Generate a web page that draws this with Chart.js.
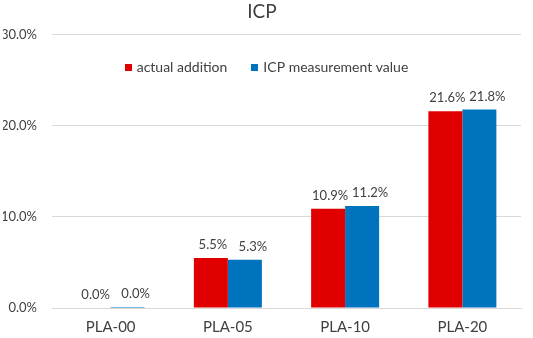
<!DOCTYPE html>
<html>
<head>
<meta charset="utf-8">
<script src="https://cdn.jsdelivr.net/npm/chart.js@4"></script>
<style>
html,body{margin:0;padding:0;background:#fff;}
#wrap{width:533px;height:338px;}
</style>
</head>
<body>
<div id="wrap"><canvas id="c" width="533" height="338"></canvas></div>
<script>
const categories = ['PLA-00', 'PLA-05', 'PLA-10', 'PLA-20'];
const actualAddition = [0, 5.5, 10.9, 21.6];
const icpMeasurement = [0.04, 5.3, 11.2, 21.8];
const seriesNames = ['actual addition', 'ICP measurement value'];
const yTicks = [0, 10, 20, 30];

const FONT = 'Lato, "Open Sans", sans-serif';

const barLabels = {
  id: 'barLabels',
  afterDatasetsDraw(chart) {
    const ctx = chart.ctx;
    ctx.save();
    ctx.font = '13px ' + FONT;
    ctx.fillStyle = '#404040';
    ctx.textAlign = 'center';
    ctx.textBaseline = 'middle';
    const dx = [2, 8];
    chart.data.datasets.forEach((ds, i) => {
      const meta = chart.getDatasetMeta(i);
      meta.data.forEach((el, j) => {
        const v = ds.data[j];
        ctx.fillText(v.toFixed(1) + '%', el.x + dx[i], el.y - 13);
      });
    });
    ctx.restore();
  }
};

const innerLegend = {
  id: 'innerLegend',
  afterDraw(chart) {
    const ctx = chart.ctx;
    ctx.save();
    ctx.font = '14px ' + FONT;
    ctx.textBaseline = 'middle';
    ctx.textAlign = 'left';
    const box = 7, gap = 5, spacing = 24;
    const items = chart.data.datasets.map(ds => ({ text: ds.label, color: ds.backgroundColor, w: ctx.measureText(ds.label).width }));
    let total = 0;
    items.forEach((it, i) => { total += box + gap + it.w + (i ? spacing : 0); });
    let x = chart.width / 2 - total / 2;
    const y = chart.chartArea.top + 33;
    items.forEach((it, i) => {
      if (i) x += spacing;
      ctx.fillStyle = it.color;
      ctx.fillRect(Math.round(x), Math.round(y - box / 2), box, box);
      x += box + gap;
      ctx.fillStyle = '#404040';
      ctx.fillText(it.text, x, y);
      x += it.w;
    });
    ctx.restore();
  }
};

new Chart(document.getElementById('c'), {
  type: 'bar',
  data: {
    labels: categories,
    datasets: [
      { label: seriesNames[0], data: actualAddition, backgroundColor: '#e00000', borderWidth: 0 },
      { label: seriesNames[1], data: icpMeasurement, backgroundColor: '#0073bf', borderWidth: 0, minBarLength: 1 }
    ]
  },
  options: {
    responsive: false,
    animation: false,
    devicePixelRatio: 1,
    layout: { padding: { left: 3, right: 12, top: 0, bottom: 3 } },
    datasets: { bar: { categoryPercentage: 0.58, barPercentage: 1.0 } },
    plugins: {
      title: {
        display: true, text: 'ICP', color: '#404040',
        font: { family: FONT, size: 19, weight: 'normal' },
        padding: { top: 0, bottom: 12 }
      },
      legend: { display: false },
      tooltip: { enabled: false }
    },
    scales: {
      x: {
        grid: { display: false, drawTicks: false },
        border: { display: true, color: '#d9d9d9' },
        ticks: { color: '#404040', font: { family: FONT, size: 15 }, padding: 10 },
        afterFit: s => { s.height = 27; }
      },
      y: {
        min: 0, max: 30,
        afterBuildTicks: s => { s.ticks = yTicks.map(v => ({ value: v })); },
        grid: { color: '#d9d9d9', drawTicks: false },
        border: { display: false },
        ticks: {
          color: '#404040', font: { family: FONT, size: 13 }, padding: 15,
          callback: v => v.toFixed(1) + '%'
        },
        afterFit: s => { s.width = 49; }
      }
    }
  },
  plugins: [barLabels, innerLegend]
});
</script>
</body>
</html>
